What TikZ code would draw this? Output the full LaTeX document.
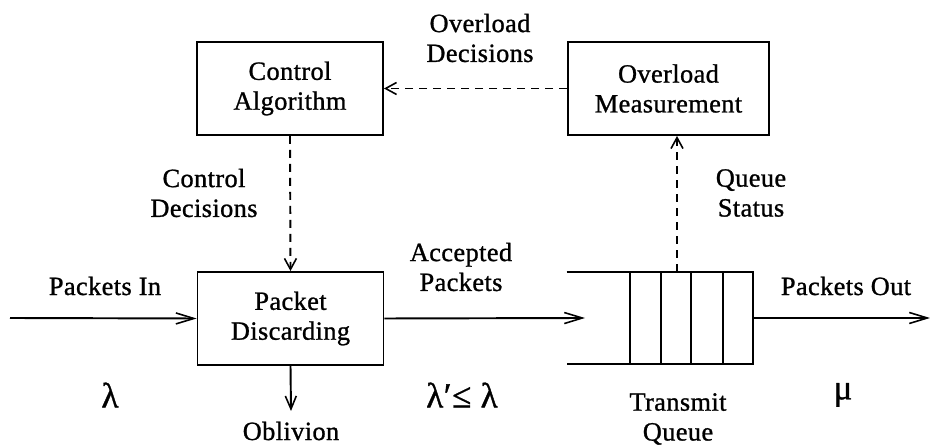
\documentclass[tikz,border=0pt]{standalone}
\usepackage{fontspec}
\setmainfont{Liberation Serif}[LetterSpace=1.5, FakeBold=1]
\usetikzlibrary{arrows.meta}
\tikzset{
  every node/.style={font=\fontsize{15}{17}\selectfont, align=center, inner sep=0pt},
  box/.style={draw, line width=1.1pt, minimum height=1.86cm, minimum width=3.72cm},
  flow/.style={line width=1.1pt, -{Straight Barb[length=3.6mm, width=2.2mm, line width=0.9pt]}},
  ctrl/.style={line width=1.1pt, dash pattern=on 1.6mm off 1.2mm,
    -{Straight Barb[length=2.2mm, width=2.4mm, line width=0.9pt]}},
  greek/.style={font=\fontsize{20}{22}\selectfont}
}
\begin{document}
\begin{tikzpicture}[x=0.02cm, y=-0.02cm]
\useasboundingbox (0,0) rectangle (930,448);

% boxes
\node[box] (alg) at (290,88.5) {Control\\Algorithm};
\node[box, minimum width=4.02cm] (meas) at (668.5,88.5) {Overload\\Measurement};
\node[box] (disc) at (290.5,318.5) {Packet\\Discarding};

% transmit queue
\node[minimum width=3.72cm, minimum height=1.84cm] (q) at (660,318) {};
\draw[line width=1.1pt] (q.north west) -- (q.north east) -- (q.south east) -- (q.south west);
\foreach \x in {630,661,691,723}
  \draw[line width=1.1pt] (\x,272) -- (\x,364);

% free ends
\coordinate (in) at (10,318);
\coordinate (acc) at (585,318);
\coordinate (out) at (930,318);
\coordinate (obl) at (291,411);

% flows
\draw[flow] (in) -- (disc.west);
\draw[flow] (disc.east) -- (acc);
\draw[flow] (q.east) -- (out);
\draw[flow, -{Straight Barb[length=2.6mm, width=2.2mm, line width=0.9pt]}] (disc.south) -- (obl);

% control loop
\draw[ctrl] (meas.west) -- (alg.east);
\draw[ctrl] (alg.south) -- (disc.north);
\draw[ctrl] (q.north -| 677,0) -- (meas.south -| 677,0);

% labels
\node (lod) at (480,38) {Overload\\Decisions};
\node (lcd) at (204,193) {Control\\Decisions};
\node (lqs) at (751,193) {Queue\\Status};
\node (lacc) at (461,267) {Accepted\\Packets};
\node (lin) at (105,286) {Packets In};
\node (lout) at (846,286) {Packets Out};
\node (lob) at (291,431) {Oblivion};
\node (ltq) at (678,419) {Transmit\\Queue};
\node[greek] (l1) at (110,395) {λ};
\node[greek] (l2) at (462,395) {λ′≤ λ};
\node[greek] (l3) at (843,395) {μ};
\end{tikzpicture}
\end{document}
